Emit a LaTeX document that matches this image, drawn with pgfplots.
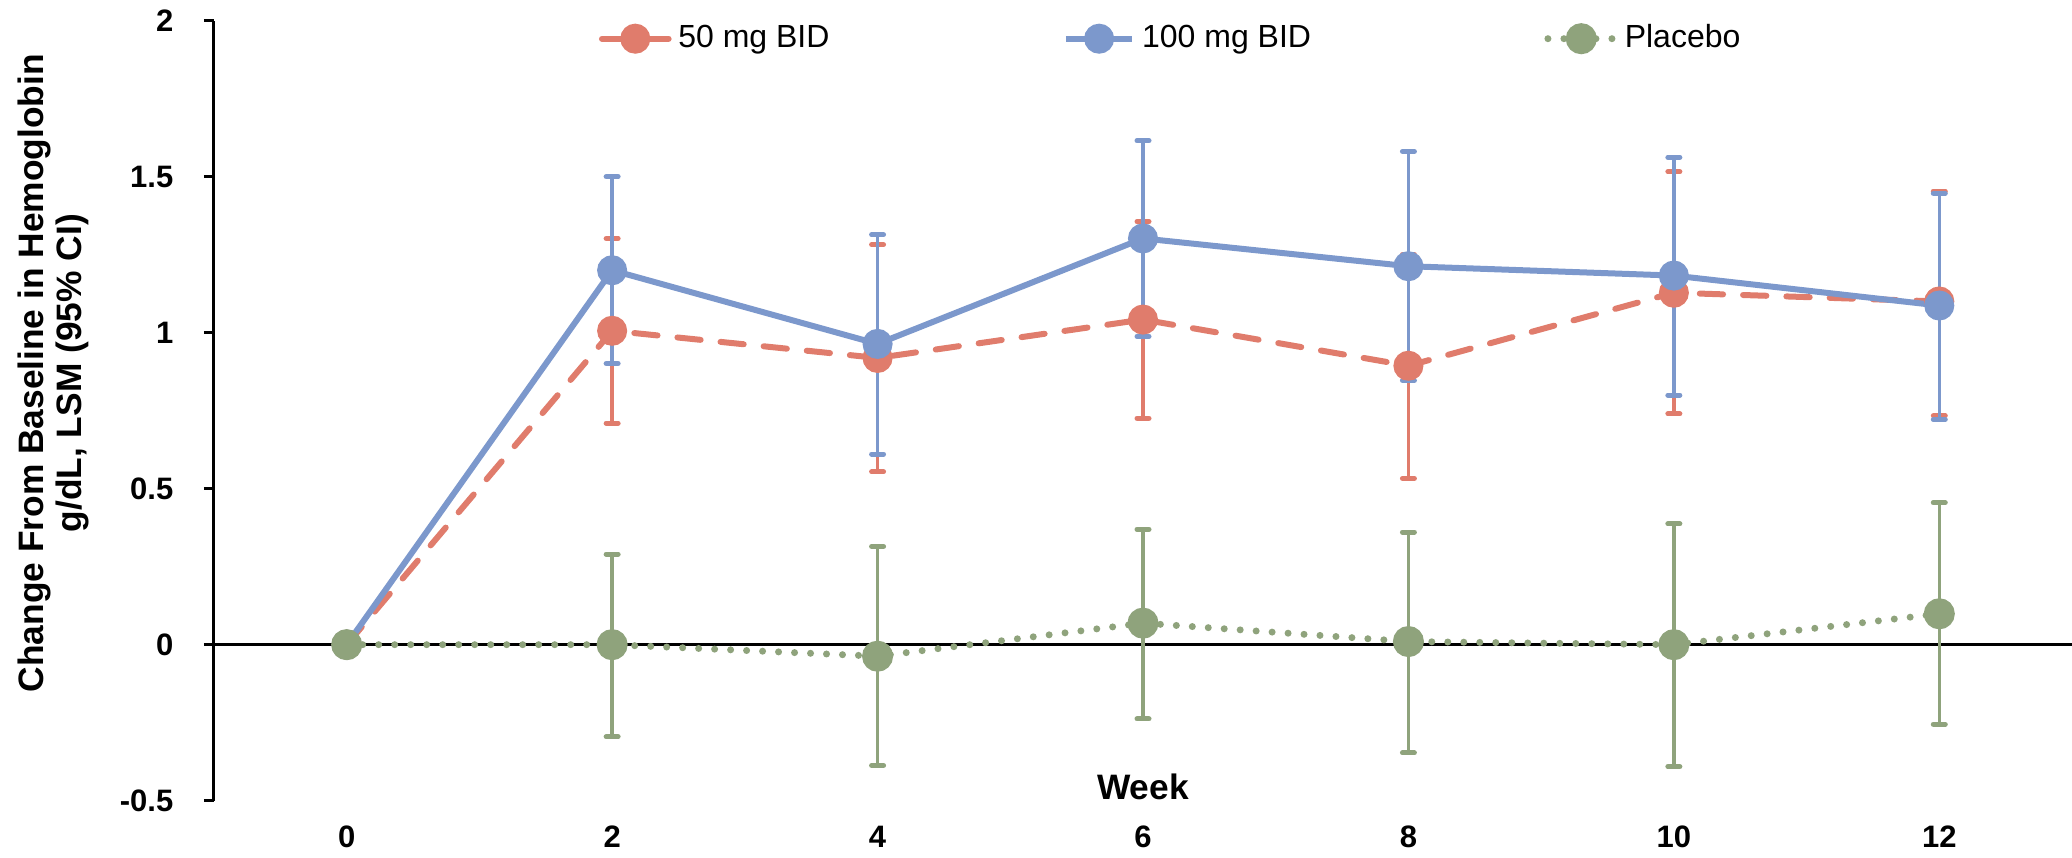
\documentclass[border=0pt]{standalone}
\usepackage{fontspec}
\setmainfont{Liberation Sans}
\usepackage{pgfplots}
\pgfplotsset{compat=1.18}
\usepackage{pgfplotstable}
\definecolor{cred}{RGB}{224,124,108}
\definecolor{cblue}{RGB}{124,152,204}
\definecolor{cgreen}{RGB}{143,163,124}

\pgfplotstableread{
x y ep em
0 0 0 0
2 1.006 0.296 0.296
4 0.919 0.363 0.365
6 1.042 0.314 0.316
8 0.894 0.357 0.361
10 1.128 0.388 0.388
12 1.100 0.354 0.367
}\redtab

\pgfplotstableread{
x y ep em
0 0 0 0
2 1.200 0.300 0.299
4 0.964 0.350 0.353
6 1.302 0.313 0.314
8 1.213 0.368 0.366
10 1.183 0.379 0.383
12 1.087 0.360 0.365
}\bluetab

\pgfplotstableread{
x y ep em
0 0 0 0
2 0.000 0.290 0.295
4 -0.037 0.352 0.350
6 0.069 0.301 0.307
8 0.010 0.351 0.357
10 0.000 0.387 0.391
12 0.099 0.356 0.354
}\greentab

\begin{document}
\begin{tikzpicture}
\begin{axis}[
  name=ax,
  scale only axis, width=557.4pt, height=234pt,
  xmin=-1, xmax=13, ymin=-0.5, ymax=2,
  clip=false,
  axis lines*=left,
  x axis line style={draw=none},
  y axis line style={line width=0.9pt, black},
  xtick={0,2,...,12},
  ytick={-0.5,0,0.5,1,1.5,2},
  tick align=outside,
  major tick length=3pt,
  xtick style={draw=none},
  ytick style={line width=0.9pt, black},
  /pgf/number format/assume math mode=true,
  tick label style={font=\fontsize{9.3}{10}\selectfont\bfseries},
  xticklabel style={anchor=center, yshift=-7.9pt},
  yticklabel style={anchor=east, inner sep=0pt, xshift=-9pt},
  xlabel={Week},
  xlabel style={at={(axis description cs:0.5,0)}, anchor=center, yshift=4.2pt, font=\fontsize{10.6}{11}\selectfont\bfseries},
  ylabel={Change From Baseline in Hemoglobin\\g/dL, LSM (95\% CI)},
  ylabel style={at={(axis description cs:-0.0864,0.548)}, anchor=center, align=center, font=\fontsize{10.6}{11.5}\selectfont\bfseries},
  legend columns=3,
  legend style={draw=none, fill=none, inner sep=0pt, outer sep=0pt,
    at={(axis description cs:0.2072,0.9769)}, anchor=west,
    font=\fontsize{9.6}{11}\selectfont,
    /tikz/every even column/.append style={column sep=68pt}},
  legend image code/.code={\draw[mark repeat=2, mark phase=2, #1] plot coordinates {(0pt,0pt) (10pt,0pt) (20pt,0pt)};},
]
\addplot[black, line width=0.8pt, forget plot] coordinates {(-1,0) (13,0)};

\addplot[cred, line width=1.8pt, dash pattern=on 7pt off 6pt, line cap=round,
  mark=*, mark size=3.6pt, mark options={solid, fill=cred, draw=none},
  error bars/.cd, y dir=both, y explicit,
  error bar style={solid, line width=1pt, cred},
  error mark options={rotate=90, solid, cred, line width=1.5pt, mark size=1.8pt, line cap=round}]
  table[x=x, y=y, y error plus=ep, y error minus=em] {\redtab};
\addlegendentry{50 mg BID}

\addplot[cblue, line width=1.8pt, solid,
  mark=*, mark size=3.6pt, mark options={solid, fill=cblue, draw=none},
  error bars/.cd, y dir=both, y explicit,
  error bar style={solid, line width=1pt, cblue},
  error mark options={rotate=90, solid, cblue, line width=1.5pt, mark size=1.8pt, line cap=round}]
  table[x=x, y=y, y error plus=ep, y error minus=em] {\bluetab};
\addlegendentry{100 mg BID}

\addplot[cgreen, line width=2.1pt, dash pattern=on 0pt off 4.8pt, line cap=round,
  mark=*, mark size=3.6pt, mark options={solid, fill=cgreen, draw=none},
  error bars/.cd, y dir=both, y explicit,
  error bar style={solid, line width=1pt, cgreen},
  error mark options={rotate=90, solid, cgreen, line width=1.5pt, mark size=1.8pt, line cap=round}]
  table[x=x, y=y, y error plus=ep, y error minus=em] {\greentab};
\addlegendentry{Placebo}
\end{axis}
\pgfresetboundingbox
\path[use as bounding box] ([xshift=-64.2pt,yshift=-17.1pt]ax.south west) rectangle ([yshift=6.2pt]ax.north east);
\end{tikzpicture}
\end{document}
